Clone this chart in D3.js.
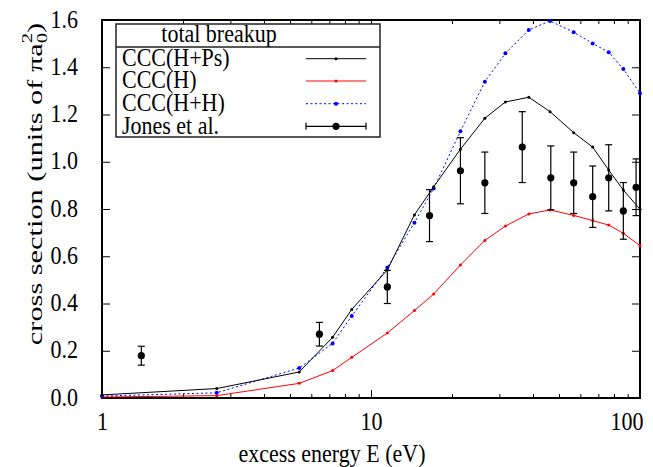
<!DOCTYPE html>
<html>
<head>
<meta charset="utf-8">
<script src="https://cdn.jsdelivr.net/npm/d3@7"></script>
<style>
  body { margin: 0; background: #fff; }
</style>
</head>
<body>
<div id="chart"></div>
<script>
const width = 653,
    height = 467,
    margin = ({ top: 20, right: 13, bottom: 69, left: 102 });

// excess energies (eV) of the CCC calculations
const energies = [1, 2.67, 5.41, 7.2, 8.48, 11.5, 14.5, 17.1, 21.5, 26.5, 31.6, 38.6, 46.3, 56.7, 66.7, 76.5, 86.7, 100];
const cccHPs = [0.013, 0.04, 0.11, 0.257, 0.375, 0.542, 0.775, 0.894, 1.053, 1.184, 1.253, 1.273, 1.212, 1.123, 1.062, 0.965, 0.880, 0.799];
const cccH   = [0.004, 0.01, 0.062, 0.116, 0.172, 0.275, 0.37, 0.44, 0.563, 0.667, 0.728, 0.779, 0.796, 0.773, 0.751, 0.732, 0.697, 0.645];
const cccHH  = [0.008, 0.022, 0.127, 0.231, 0.347, 0.552, 0.742, 0.887, 1.129, 1.339, 1.459, 1.558, 1.596, 1.548, 1.501, 1.463, 1.393, 1.29];

// Jones et al. measurements
const jonesE   = [1.4, 6.43, 11.5, 16.5, 21.5, 26.5, 36.5, 46.6, 56.7, 66.7, 76.5, 86.7, 96.7];
const jonesVal = [0.179, 0.27, 0.47, 0.772, 0.962, 0.911, 1.062, 0.932, 0.911, 0.852, 0.932, 0.792, 0.892];
const jonesErr = [0.04, 0.05, 0.07, 0.11, 0.14, 0.13, 0.15, 0.135, 0.13, 0.13, 0.14, 0.12, 0.12];

const xMajor = [1, 10, 100];
const xMinor = [2, 3, 4, 5, 6, 7, 8, 9, 20, 30, 40, 50, 60, 70, 80, 90];
const yTicks = [0, 0.2, 0.4, 0.6, 0.8, 1.0, 1.2, 1.4, 1.6];

const svg = d3.select("#chart")
    .append("svg")
    .attr("width", width)
    .attr("height", height);

let x = d3.scaleLog()
    .domain([1, 100])
    .range([margin.left, width - margin.right]);

let y = d3.scaleLinear()
    .domain([0, 1.6])
    .range([height - margin.bottom, margin.top]);

const fontSize = 22;
const stretchY = 1.1; // the original figure's type is a bit taller than wide

// scale a text vertically about its own baseline point
function stretch(sel) {
  sel.each(function() {
    let t = d3.select(this);
    let tx = +t.attr("x") || 0, ty = +t.attr("y") || 0;
    t.attr("transform", `translate(${tx},${ty}) scale(1,${stretchY}) translate(${-tx},${-ty})`);
  });
}

// axes (gnuplot style: ticks inside, mirrored)
function styleAxis(g) {
  g.attr("font-size", fontSize);
  g.select(".domain").remove();
  g.selectAll(".tick line").attr("stroke", "#000").attr("stroke-width", 1);
  g.selectAll(".tick text").attr("fill", "#000");
}

svg.append("g")
  .attr("transform", `translate(0,${y(0)})`)
  .call(d3.axisBottom(x).tickValues(xMajor).tickSize(-8).tickFormat(d3.format("d")))
  .call(styleAxis)
  .call(g => g.selectAll(".tick text").attr("dy", null).attr("y", 32).call(stretch))
  .call(g => g.selectAll(".tick text").filter(d => d === 100).attr("text-anchor", "end").attr("dx", 3));

svg.append("g")
  .attr("transform", `translate(0,${y(0)})`)
  .call(d3.axisBottom(x).tickValues(xMinor).tickSize(-4).tickFormat(""))
  .call(styleAxis);

svg.append("g")
  .attr("transform", `translate(0,${y(1.6)})`)
  .call(d3.axisTop(x).tickValues(xMajor).tickSize(-8).tickFormat(""))
  .call(styleAxis);

svg.append("g")
  .attr("transform", `translate(0,${y(1.6)})`)
  .call(d3.axisTop(x).tickValues(xMinor).tickSize(-4).tickFormat(""))
  .call(styleAxis);

svg.append("g")
  .attr("transform", `translate(${x(1)},0)`)
  .call(d3.axisLeft(y).tickValues(yTicks).tickSize(-8).tickFormat(d3.format(".1f")))
  .call(styleAxis)
  .call(g => g.selectAll(".tick text").attr("dy", null).attr("x", -24).attr("y", 7).call(stretch));

svg.append("g")
  .attr("transform", `translate(${x(100)},0)`)
  .call(d3.axisRight(y).tickValues(yTicks).tickSize(-8).tickFormat(""))
  .call(styleAxis);

// frame
svg.append("rect")
  .attr("x", x(1))
  .attr("y", y(1.6))
  .attr("width", x(100) - x(1))
  .attr("height", y(0) - y(1.6))
  .attr("fill", "none")
  .attr("stroke", "#000")
  .attr("stroke-width", 2);

// axis labels
svg.append("text")
  .attr("x", 332)
  .attr("y", 462)
  .attr("text-anchor", "middle")
  .attr("font-size", fontSize)
  .text("excess energy E (eV)")
  .call(stretch);

const yl = svg.append("text")
  .attr("transform", `translate(42,184) scale(1,1.38) rotate(-90)`)
  .attr("text-anchor", "middle")
  .attr("font-size", fontSize);
yl.append("tspan").text("cross section (units of πa");
yl.append("tspan").attr("font-size", 15).attr("dy", 5).text("0");
yl.append("tspan").attr("font-size", 15).attr("dx", -7.5).attr("dy", -15).text("2");
yl.append("tspan").attr("dy", 10).text(")");

// curves
const series = [
  { name: "CCC(H+Ps)", values: cccHPs, color: "#000", dash: null, r: 1.5 },
  { name: "CCC(H)", values: cccH, color: "#ff0000", dash: null, r: 1.5 },
  { name: "CCC(H+H)", values: cccHH, color: "#0000ff", dash: "2,2.5", r: 2 }
];

let line = d3.line()
  .x(d => x(d[0]))
  .y(d => y(d[1]));

const plot = svg.append("g");

for (let s of [series[1], series[2], series[0]]) {
  let pts = energies.map((e, i) => [e, s.values[i]]);
  plot.append("path")
    .datum(pts)
    .attr("d", line)
    .attr("fill", "none")
    .attr("stroke", s.color)
    .attr("stroke-width", 1)
    .attr("stroke-dasharray", s.dash);
  plot.selectAll(null)
    .data(pts)
    .join("circle")
    .attr("cx", d => x(d[0]))
    .attr("cy", d => y(d[1]))
    .attr("r", s.r)
    .attr("fill", s.color);
}

// Jones et al. with error bars
const jones = jonesE.map((e, i) => ({ e: e, v: jonesVal[i], err: jonesErr[i] }));
const jg = plot.selectAll(".jones")
  .data(jones)
  .join("g")
  .attr("class", "jones");
jg.append("line")
  .attr("x1", d => x(d.e)).attr("x2", d => x(d.e))
  .attr("y1", d => y(d.v - d.err)).attr("y2", d => y(d.v + d.err))
  .attr("stroke", "#000").attr("stroke-width", 1.2);
for (let k of [-1, 1]) {
  jg.append("line")
    .attr("x1", d => x(d.e) - 3.5).attr("x2", d => x(d.e) + 3.5)
    .attr("y1", d => y(d.v + k * d.err)).attr("y2", d => y(d.v + k * d.err))
    .attr("stroke", "#000").attr("stroke-width", 1.2);
}
jg.append("circle")
  .attr("cx", d => x(d.e))
  .attr("cy", d => y(d.v))
  .attr("r", 3.6)
  .attr("fill", "#000");

// legend
const legend = svg.append("g");
legend.append("rect")
  .attr("x", 116).attr("y", 24)
  .attr("width", 264).attr("height", 113)
  .attr("fill", "#fff")
  .attr("stroke", "#222")
  .attr("stroke-width", 1.5);
legend.append("line")
  .attr("x1", 116).attr("x2", 380)
  .attr("y1", 47).attr("y2", 47)
  .attr("stroke", "#222").attr("stroke-width", 1.5);
legend.append("text")
  .attr("x", 219).attr("y", 42)
  .attr("text-anchor", "middle")
  .attr("font-size", fontSize)
  .text("total breakup")
  .call(stretch);

const rows = [58.7, 81, 103.7, 126.3];
series.forEach((s, i) => {
  let ry = rows[i];
  legend.append("text").attr("x", 122).attr("y", ry + 7.5).attr("font-size", fontSize).text(s.name).call(stretch);
  legend.append("line")
    .attr("x1", 306).attr("x2", 366).attr("y1", ry).attr("y2", ry)
    .attr("stroke", s.color).attr("stroke-width", 1).attr("stroke-dasharray", s.dash);
  legend.append("circle").attr("cx", 336).attr("cy", ry).attr("r", s.r).attr("fill", s.color);
});
{
  let ry = rows[3];
  legend.append("text").attr("x", 122).attr("y", ry + 7.5).attr("font-size", fontSize).text("Jones et al.").call(stretch);
  legend.append("line").attr("x1", 306).attr("x2", 366).attr("y1", ry).attr("y2", ry)
    .attr("stroke", "#000").attr("stroke-width", 1.2);
  for (let cx of [306, 366]) {
    legend.append("line").attr("x1", cx).attr("x2", cx).attr("y1", ry - 3.5).attr("y2", ry + 3.5)
      .attr("stroke", "#000").attr("stroke-width", 1.2);
  }
  legend.append("circle").attr("cx", 336).attr("cy", ry).attr("r", 3.6).attr("fill", "#000");
}

// serif type everywhere
svg.selectAll("text").style("font-family", '"Liberation Serif"').style("fill", "#000");
</script>
</body>
</html>
